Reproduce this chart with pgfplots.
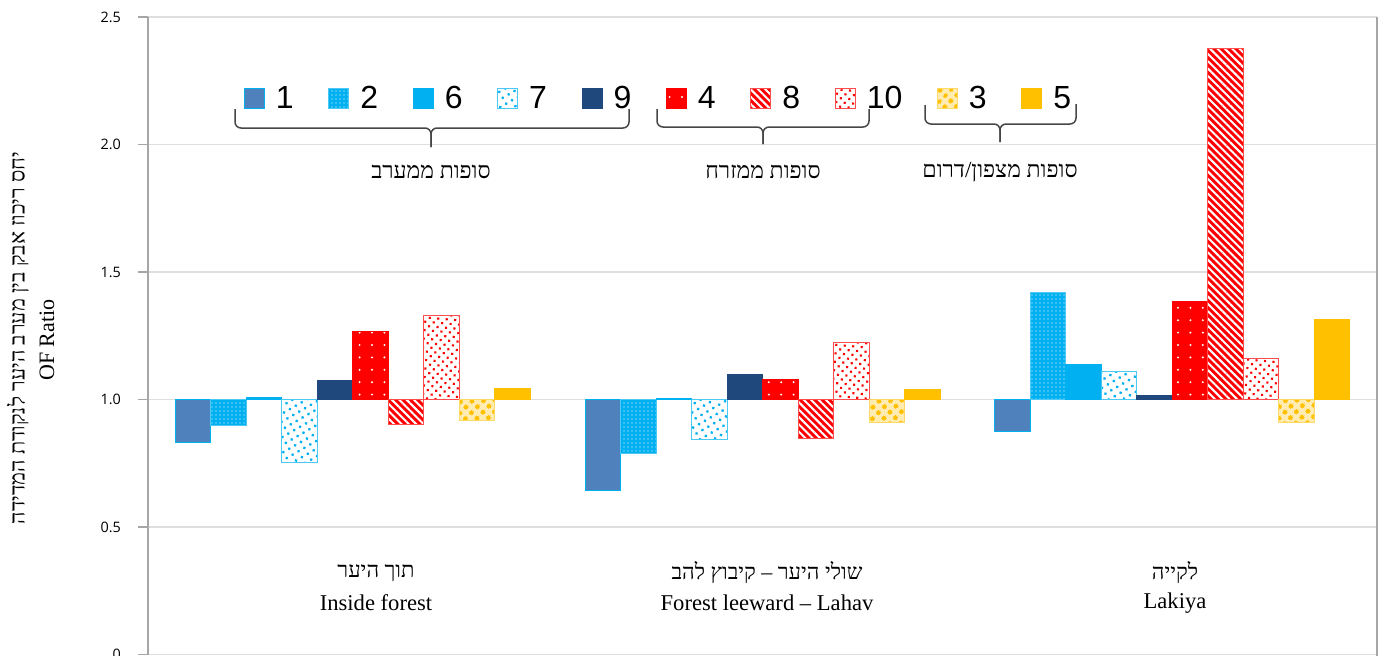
\documentclass[border=0pt]{standalone}
\usepackage{fontspec}
\usepackage{pgfplots}
\pgfplotsset{compat=1.18}
\usetikzlibrary{patterns,patterns.meta}
\setmainfont{Liberation Serif}
\newfontfamily\hebfont[Script=Hebrew]{Liberation Serif}
\newfontfamily\arialfont{Liberation Sans}
\newfontfamily\tickfont{Open Sans}
\TeXXeTstate=1
\definecolor{cOne}{RGB}{79,129,189}
\definecolor{cCyan}{RGB}{0,176,240}
\definecolor{cDark}{RGB}{31,73,125}
\definecolor{cRed}{RGB}{255,0,0}
\definecolor{cYel}{RGB}{255,192,0}
\definecolor{axgray}{RGB}{166,166,166}
\definecolor{gridgray}{RGB}{222,222,222}
\definecolor{bracegray}{RGB}{70,70,70}
\begin{document}
\begin{tikzpicture}
\begin{axis}[
  name=ax, at={(74pt,-8.5pt)}, anchor=north west,
  scale only axis, width=614.5pt, height=318.75pt,
  xmin=-0.5, xmax=2.5, ymin=-1, ymax=1.5,
  ybar=0pt, bar width=17.75pt,
  y filter/.expression={y-1},
  axis x line=none, axis y line*=left,
  y axis line style={draw=axgray, line width=0.75pt},
  ytick={-1,-0.5,0,0.5,1,1.5},
  yticklabels={0,0.5,1.0,1.5,2.0,2.5},
  tick align=outside, major tick length=5pt,
  ytick style={draw=axgray, line width=0.75pt},
  yticklabel style={font=\tickfont\fontsize{7.2}{8}\selectfont, text=black, xshift=-5pt},
  ymajorgrids, grid style={draw=gridgray, line width=0.6pt},
  clip=false,
  legend columns=10,
  legend image code/.code={\draw[#1] (0pt,-5pt) rectangle (10pt,5pt);},
  legend style={draw=none, fill=none, inner sep=0pt, outer sep=0pt,
    at={(0.0781,0.8714)}, anchor=west,
    font=\arialfont\fontsize{16}{16}\selectfont,
    nodes={inner sep=0pt},
    /tikz/every odd column/.append style={column sep=5.5pt},
    /tikz/every even column/.append style={column sep=17.3pt}},
]
% 1
\addplot[fill=cOne, draw=cCyan, line width=0.5pt] coordinates {(0,0.830) (1,0.645) (2,0.876)};
% 2
\addplot[fill=cCyan, draw=cCyan!70, line width=0.5pt, postaction={pattern={Dots[distance=2pt,radius=0.35pt]}, pattern color=white}] coordinates {(0,0.898) (1,0.788) (2,1.419)};
% 6
\addplot[fill=cCyan, draw=cCyan, line width=0.5pt] coordinates {(0,1.007) (1,1.003) (2,1.138)};
% 7
\addplot[fill=white, draw=cCyan!70, line width=0.5pt, postaction={pattern={Dots[distance=3.4pt,angle=30,radius=0.8pt]}, pattern color=cCyan}] coordinates {(0,0.753) (1,0.844) (2,1.109)};
% 9
\addplot[fill=cDark, draw=cDark, line width=0.5pt] coordinates {(0,1.075) (1,1.100) (2,1.014)};
% 4
\addplot[fill=cRed, draw=cRed, line width=0.5pt, postaction={pattern={Dots[distance=6.2pt,radius=0.55pt]}, pattern color=white}] coordinates {(0,1.266) (1,1.078) (2,1.384)};
% 8
\addplot[fill=cRed, draw=cRed!70, line width=0.5pt, postaction={pattern={Lines[angle=-45,distance=2.6pt,line width=1pt]}, pattern color=white}] coordinates {(0,0.902) (1,0.849) (2,2.375)};
% 10
\addplot[fill=white, draw=cRed!70, line width=0.5pt, postaction={pattern={Dots[distance=3pt,angle=40,radius=0.75pt]}, pattern color=cRed}] coordinates {(0,1.328) (1,1.224) (2,1.159)};
% 3
\addplot[fill=cYel!30, draw=cYel!60, line width=0.5pt, postaction={pattern={Dots[distance=4pt,angle=45,radius=1.3pt]}, pattern color=cYel}] coordinates {(0,0.917) (1,0.911) (2,0.909)};
% 5
\addplot[fill=cYel, draw=cYel, line width=0.5pt] coordinates {(0,1.044) (1,1.039) (2,1.315)};
\legend{1,2,6,7,9,4,8,10,3,5}
\end{axis}
\begin{scope}[x=0.5pt, y=-0.5pt]
  % braces
  \begin{scope}[draw=bracegray, line width=0.75pt, rounded corners=3pt]
    \draw (235,109) -- (235,128) -- (431,128) -- (431,147);
    \draw (629,109) -- (629,128) -- (431,128) -- (431,147);
    \draw (657,109) -- (657,127) -- (763,127) -- (763,144);
    \draw (869,109) -- (869,127) -- (763,127) -- (763,144);
    \draw (925,105) -- (925,124) -- (1000,124) -- (1000,142);
    \draw (1076,104) -- (1076,124) -- (1000,124) -- (1000,142);
  \end{scope}
  \node at (431,172) {\hebfont\fontsize{11.5}{13}\selectfont\beginR סופות ממערב\endR};
  \node at (763,172) {\hebfont\fontsize{11.5}{13}\selectfont\beginR סופות ממזרח\endR};
  \node at (1000,172) {\hebfont\fontsize{11.5}{13}\selectfont\beginR סופות מצפון/דרום\endR};
  % category labels
  \node at (376,573) {\hebfont\fontsize{11}{13}\selectfont\beginR תוך היער\endR};
  \node at (376,603) {\fontsize{11.3}{13}\selectfont Inside forest};
  \node at (767,573) {\hebfont\fontsize{11}{13}\selectfont\beginR שולי היער – קיבוץ להב\endR};
  \node at (767,603) {\fontsize{11.3}{13}\selectfont Forest leeward – Lahav};
  \node at (1175,573) {\hebfont\fontsize{11}{13}\selectfont\beginR לקייה\endR};
  \node at (1175,603) {\fontsize{11.3}{13}\selectfont Lakiya};
  % y label
  \node[rotate=90] at (18,338) {\hebfont\fontsize{10.8}{13}\selectfont\beginR יחס ריכוז אבק בין מערב היער לנקודת המדידה\endR};
  \node[rotate=90] at (47,340) {\fontsize{11}{13}\selectfont OF Ratio};
  \draw[axgray, line width=0.75pt] (1377,17) -- (1377,656);
  \pgfresetboundingbox
  \path[use as bounding box] (0,0) rectangle (1387,655);
\end{scope}
\end{tikzpicture}
\end{document}
